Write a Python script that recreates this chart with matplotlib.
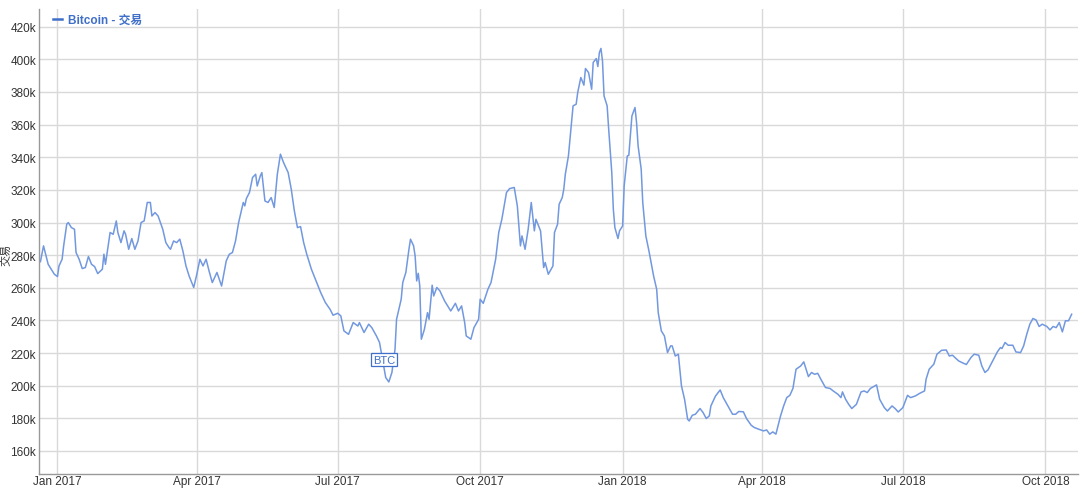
import numpy as np
import pandas as pd
import matplotlib
matplotlib.use("Agg")
import matplotlib.pyplot as plt
import matplotlib.dates as mdates
from matplotlib.ticker import FuncFormatter, MultipleLocator

plt.rcParams['font.family'] = ['Liberation Sans', 'Noto Sans CJK SC', 'DejaVu Sans']

# Bitcoin transactions, values in thousands
dates = [
    "2016-12-21", "2016-12-23", "2016-12-26", "2016-12-28", "2016-12-30", "2017-01-01", "2017-01-02",
    "2017-01-04", "2017-01-05", "2017-01-07", "2017-01-08", "2017-01-10", "2017-01-12", "2017-01-13",
    "2017-01-15", "2017-01-17", "2017-01-19", "2017-01-21", "2017-01-23", "2017-01-25", "2017-01-27",
    "2017-01-30", "2017-01-31", "2017-02-01", "2017-02-04", "2017-02-06", "2017-02-08", "2017-02-09",
    "2017-02-11", "2017-02-13", "2017-02-14", "2017-02-16", "2017-02-18", "2017-02-20", "2017-02-22",
    "2017-02-24", "2017-02-26", "2017-02-28", "2017-03-02", "2017-03-03", "2017-03-05", "2017-03-07",
    "2017-03-10", "2017-03-12", "2017-03-14", "2017-03-15", "2017-03-17", "2017-03-19", "2017-03-21",
    "2017-03-23", "2017-03-25", "2017-03-27", "2017-03-30", "2017-04-01", "2017-04-03", "2017-04-05",
    "2017-04-07", "2017-04-09", "2017-04-11", "2017-04-14", "2017-04-17", "2017-04-20", "2017-04-22",
    "2017-04-24", "2017-04-26", "2017-04-28", "2017-05-01", "2017-05-02", "2017-05-03", "2017-05-05",
    "2017-05-07", "2017-05-09", "2017-05-10", "2017-05-12", "2017-05-13", "2017-05-15", "2017-05-17",
    "2017-05-19", "2017-05-21", "2017-05-23", "2017-05-25", "2017-05-27", "2017-05-30", "2017-06-01",
    "2017-06-03", "2017-06-05", "2017-06-07", "2017-06-09", "2017-06-11", "2017-06-14", "2017-06-17",
    "2017-06-20", "2017-06-23", "2017-06-26", "2017-06-28", "2017-07-01", "2017-07-03", "2017-07-05",
    "2017-07-08", "2017-07-11", "2017-07-14", "2017-07-15", "2017-07-18", "2017-07-21", "2017-07-23",
    "2017-07-26", "2017-07-28", "2017-07-31", "2017-08-01", "2017-08-03", "2017-08-05", "2017-08-07",
    "2017-08-08", "2017-08-11", "2017-08-12", "2017-08-14", "2017-08-16", "2017-08-17", "2017-08-19",
    "2017-08-20", "2017-08-21", "2017-08-22", "2017-08-23", "2017-08-24", "2017-08-26", "2017-08-28",
    "2017-08-29", "2017-08-31", "2017-09-01", "2017-09-03", "2017-09-05", "2017-09-08", "2017-09-12",
    "2017-09-15", "2017-09-17", "2017-09-19", "2017-09-21", "2017-09-22", "2017-09-25", "2017-09-27",
    "2017-09-30", "2017-10-01", "2017-10-03", "2017-10-06", "2017-10-08", "2017-10-11", "2017-10-13",
    "2017-10-15", "2017-10-18", "2017-10-20", "2017-10-23", "2017-10-25", "2017-10-27", "2017-10-28",
    "2017-10-30", "2017-11-01", "2017-11-03", "2017-11-05", "2017-11-06", "2017-11-09", "2017-11-11",
    "2017-11-12", "2017-11-14", "2017-11-17", "2017-11-18", "2017-11-20", "2017-11-21", "2017-11-23",
    "2017-11-24", "2017-11-25", "2017-11-27", "2017-11-28", "2017-11-30", "2017-12-02", "2017-12-03",
    "2017-12-05", "2017-12-07", "2017-12-08", "2017-12-10", "2017-12-12", "2017-12-13", "2017-12-15",
    "2017-12-16", "2017-12-17", "2017-12-18", "2017-12-19", "2017-12-20", "2017-12-22", "2017-12-23",
    "2017-12-25", "2017-12-26", "2017-12-27", "2017-12-29", "2017-12-30", "2018-01-01", "2018-01-02",
    "2018-01-04", "2018-01-05", "2018-01-07", "2018-01-09", "2018-01-10", "2018-01-11", "2018-01-13",
    "2018-01-14", "2018-01-16", "2018-01-18", "2018-01-20", "2018-01-21", "2018-01-23", "2018-01-24",
    "2018-01-26", "2018-01-28", "2018-01-30", "2018-02-01", "2018-02-02", "2018-02-04", "2018-02-06",
    "2018-02-08", "2018-02-10", "2018-02-12", "2018-02-13", "2018-02-15", "2018-02-17", "2018-02-20",
    "2018-02-22", "2018-02-24", "2018-02-26", "2018-02-27", "2018-03-02", "2018-03-05", "2018-03-07",
    "2018-03-10", "2018-03-13", "2018-03-15", "2018-03-17", "2018-03-20", "2018-03-22", "2018-03-25",
    "2018-03-27", "2018-03-30", "2018-04-02", "2018-04-04", "2018-04-06", "2018-04-08", "2018-04-10",
    "2018-04-13", "2018-04-15", "2018-04-17", "2018-04-19", "2018-04-21", "2018-04-23", "2018-04-26",
    "2018-04-28", "2018-05-01", "2018-05-03", "2018-05-05", "2018-05-07", "2018-05-09", "2018-05-12",
    "2018-05-15", "2018-05-17", "2018-05-20", "2018-05-22", "2018-05-23", "2018-05-25", "2018-05-27",
    "2018-05-29", "2018-06-01", "2018-06-04", "2018-06-06", "2018-06-08", "2018-06-10", "2018-06-14",
    "2018-06-16", "2018-06-19", "2018-06-21", "2018-06-24", "2018-06-26", "2018-06-28", "2018-07-01",
    "2018-07-04", "2018-07-06", "2018-07-09", "2018-07-12", "2018-07-15", "2018-07-16", "2018-07-18",
    "2018-07-21", "2018-07-23", "2018-07-26", "2018-07-29", "2018-07-31", "2018-08-02", "2018-08-06",
    "2018-08-09", "2018-08-11", "2018-08-14", "2018-08-16", "2018-08-19", "2018-08-21", "2018-08-23",
    "2018-08-25", "2018-08-28", "2018-08-31", "2018-09-02", "2018-09-03", "2018-09-05", "2018-09-07",
    "2018-09-10", "2018-09-12", "2018-09-15", "2018-09-17", "2018-09-19", "2018-09-21", "2018-09-23",
    "2018-09-25", "2018-09-27", "2018-09-29", "2018-10-02", "2018-10-04", "2018-10-06", "2018-10-08",
    "2018-10-10", "2018-10-12", "2018-10-14", "2018-10-16", "2018-10-18",
]
tx_k = [
    276.0, 285.7, 274.4, 271.4, 268.3, 266.9, 273.4,
    277.5, 285.7, 299.0, 300.0, 296.9, 295.9, 281.6,
    277.5, 271.8, 272.4, 279.2, 274.4, 273.0, 268.7,
    271.4, 280.6, 274.4, 293.9, 292.8, 301.0, 293.9,
    287.7, 294.9, 292.8, 283.6, 290.2, 283.6, 288.7,
    300.0, 301.0, 312.3, 312.3, 304.0, 306.1, 304.0,
    295.9, 287.7, 284.7, 283.6, 288.7, 287.7, 289.8,
    282.6, 273.4, 267.3, 260.2, 268.3, 277.5, 273.4,
    277.5, 270.0, 263.2, 269.4, 261.1, 276.5, 280.6,
    281.6, 288.7, 300.0, 312.3, 310.2, 314.7, 318.4,
    327.6, 329.6, 322.4, 328.6, 330.6, 313.2, 312.3,
    315.3, 309.2, 329.6, 341.9, 336.8, 330.6, 320.4,
    307.1, 296.9, 297.5, 287.7, 280.6, 271.4, 264.2,
    257.1, 251.0, 246.9, 243.2, 244.4, 242.8, 233.6,
    231.5, 238.7, 236.6, 238.7, 232.6, 237.7, 235.6,
    230.5, 226.5, 210.1, 205.0, 202.3, 208.1, 222.3,
    240.7, 253.0, 263.2, 269.4, 283.6, 289.8, 285.7,
    279.5, 264.2, 268.9, 261.1, 228.5, 234.6, 244.8,
    240.7, 261.6, 255.0, 260.2, 258.1, 252.0, 245.8,
    250.5, 245.8, 248.9, 238.7, 230.5, 228.5, 235.6,
    240.7, 253.0, 250.5, 259.1, 263.2, 277.5, 293.9,
    302.0, 318.4, 320.8, 321.5, 310.2, 285.7, 291.8,
    283.6, 295.9, 312.3, 294.9, 302.0, 294.9, 272.4,
    275.5, 268.3, 273.4, 293.9, 299.0, 311.2, 315.3,
    320.4, 329.6, 340.8, 351.0, 371.5, 372.5, 379.7,
    388.9, 384.2, 394.4, 391.9, 381.7, 398.1, 400.5,
    395.6, 404.2, 406.7, 399.1, 377.6, 371.5, 357.2,
    330.6, 308.2, 296.9, 290.2, 294.9, 297.9, 322.4,
    340.8, 341.2, 365.3, 370.5, 361.3, 347.0, 332.7,
    312.3, 291.8, 282.6, 272.4, 267.3, 259.1, 244.8,
    233.6, 230.5, 220.3, 224.4, 224.4, 218.2, 219.3,
    199.9, 191.7, 179.4, 178.4, 181.9, 182.5, 186.0,
    183.5, 179.9, 181.5, 187.6, 193.7, 197.4, 192.7,
    187.6, 182.5, 182.5, 184.2, 184.0, 179.9, 175.8,
    174.4, 173.3, 172.3, 172.9, 170.3, 171.7, 170.3,
    181.5, 187.6, 192.7, 194.1, 198.3, 210.1, 212.1,
    214.6, 205.6, 208.1, 207.0, 207.6, 204.0, 198.9,
    198.3, 196.8, 194.8, 192.7, 196.2, 191.7, 188.6,
    186.0, 188.6, 196.2, 196.8, 195.8, 198.3, 200.5,
    191.7, 186.6, 184.5, 187.6, 186.0, 183.9, 186.6,
    194.1, 192.7, 193.7, 195.4, 196.8, 204.0, 210.1,
    213.2, 219.3, 221.7, 221.9, 218.2, 218.7, 215.2,
    213.8, 213.0, 217.3, 219.3, 218.7, 212.1, 208.1,
    209.7, 215.2, 220.7, 223.4, 222.8, 226.5, 224.8,
    224.8, 220.7, 220.3, 224.4, 231.5, 237.7, 241.2,
    240.3, 236.3, 237.7, 236.3, 234.2, 236.3, 235.6,
    238.7, 233.0, 239.8, 239.8, 243.8,
]
series_name = "Bitcoin - 交易"
y_title = "交易"
flag_date = "2017-07-31"
flag_value = 216.0
flag_text = "BTC"

df = pd.DataFrame({"date": pd.to_datetime(dates), "tx": np.array(tx_k) * 1000})

fig = plt.figure(figsize=(10.8, 4.89), dpi=100)
ax = fig.add_axes([0.036, 0.029, 0.962, 0.951])

line_color = "#7298df"
ax.plot(df["date"], df["tx"], color=line_color, linewidth=1.1, label=series_name)

ax.set_xlim(pd.Timestamp("2016-12-20"), pd.Timestamp("2018-10-22"))
ax.set_ylim(146000, 431000)

ax.yaxis.set_major_locator(MultipleLocator(20000))
ax.yaxis.set_major_formatter(FuncFormatter(lambda v, p: f"{v/1000:.0f}k"))
ax.xaxis.set_major_locator(mdates.MonthLocator(bymonth=[1, 4, 7, 10]))
ax.xaxis.set_major_formatter(mdates.DateFormatter("%b %Y"))

ax.grid(True, color="#d9d9d9", linewidth=1.0)
ax.set_axisbelow(True)
for s in ["top", "right"]:
    ax.spines[s].set_visible(False)
for s in ["left", "bottom"]:
    ax.spines[s].set_color("#999999")
    ax.spines[s].set_linewidth(1.0)
ax.tick_params(axis="both", length=0, labelsize=8.5, labelcolor="#333333")
ax.tick_params(axis="y", pad=2)
ax.tick_params(axis="x", pad=1)

# vertical axis title, kept inside the figure
fig.text(6 / 1080, 0.478, y_title, rotation=90, fontsize=8, color="#333333",
         ha="center", va="center")

leg = ax.legend(loc="upper left", bbox_to_anchor=(0.006, 1.007), frameon=False,
                handlelength=0.7, handletextpad=0.5, borderaxespad=0.3,
                prop={"size": 8.5, "weight": "bold"})
for t in leg.get_texts():
    t.set_color("#3f6fc9")
for h in leg.get_lines():
    h.set_color("#3f6fc9")
    h.set_linewidth(1.8)

ax.text(pd.Timestamp(flag_date), flag_value * 1000, flag_text, fontsize=8, color="#3f6fc9",
        ha="center", va="center",
        bbox=dict(boxstyle="square,pad=0.15", fc="white", ec="#3f6fc9", lw=0.9))

fig.savefig("out.png", dpi=100)
